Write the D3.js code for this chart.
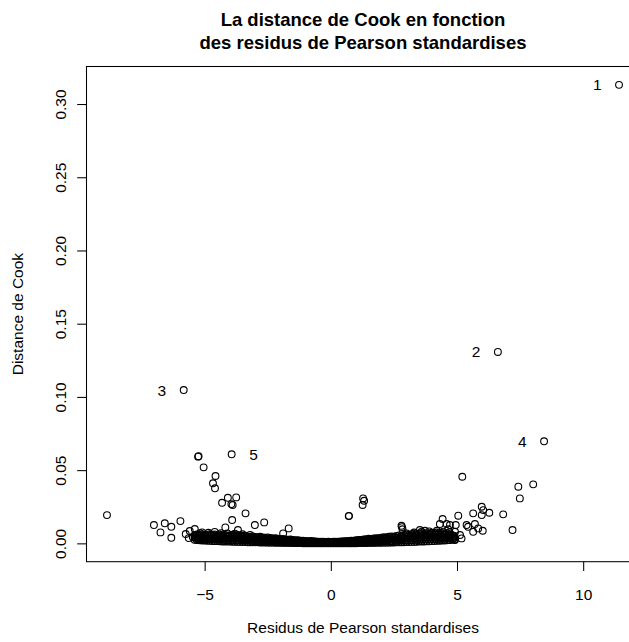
<!DOCTYPE html>
<html>
<head>
<meta charset="utf-8">
<script src="https://cdn.jsdelivr.net/npm/d3@7"></script>
<style>
  html, body { margin: 0; padding: 0; background: #fff; }
  svg { display: block; font-family: "Liberation Sans", Arial, Helvetica, sans-serif; }
</style>
</head>
<body>
<svg id="chart" width="629" height="642"></svg>
<script>
// Influential observations: [standardised Pearson residual, Cook's distance]
const outliers = [
  [11.42, 0.3131], [6.62, 0.1307], [-5.83, 0.1047], [8.45, 0.0697], [-3.93, 0.0608],
  [-5.26, 0.0592], [-5.24, 0.0595], [-5.04, 0.0519], [-4.57, 0.0460], [-4.67, 0.0410],
  [-4.59, 0.0376], [-4.08, 0.0311], [-3.75, 0.0314], [-4.31, 0.0277], [-3.94, 0.0268],
  [-3.89, 0.0262], [-3.38, 0.0205], [-3.91, 0.0159], [-8.87, 0.0193], [-7.01, 0.0125],
  [-6.58, 0.0137], [-6.32, 0.0113], [-5.96, 0.0152], [-6.75, 0.0075], [-6.32, 0.0038],
  [-3.01, 0.0125], [-2.64, 0.0143], [-1.67, 0.0102], [-1.89, 0.0068], [-4.18, 0.0109],
  [-3.68, 0.0091], [-5.75, 0.0064], [-5.59, 0.0084], [-5.39, 0.0098], [-5.47, 0.0043],
  [-5.19, 0.0070], [-5.63, 0.0036], [0.71, 0.0186], [0.72, 0.0188], [1.28, 0.0307],
  [1.32, 0.0291], [1.26, 0.0262], [2.80, 0.0120], [2.82, 0.0111], [2.84, 0.0096],
  [3.53, 0.0091], [3.73, 0.0086], [4.43, 0.0166], [4.32, 0.0132], [4.59, 0.0132],
  [4.72, 0.0125], [4.95, 0.0125], [5.05, 0.0189], [4.65, 0.0096], [4.92, 0.0079],
  [5.12, 0.0057], [4.92, 0.0023], [5.18, 0.0034], [5.38, 0.0125], [5.44, 0.0113],
  [5.71, 0.0132], [5.64, 0.0205], [5.98, 0.0250], [6.04, 0.0227], [5.98, 0.0193],
  [6.28, 0.0209], [5.84, 0.0102], [6.02, 0.0086], [5.64, 0.0079], [6.83, 0.0198],
  [7.20, 0.0091], [7.43, 0.0387], [7.49, 0.0307], [8.02, 0.0403], [5.21, 0.0455]
];

// Bulk of the observations: residual values and the Cook's distances found at each
const bandX = [
  -5.4, -5.3, -5.2, -5.1, -5.0, -4.9, -4.8, -4.7, -4.6, -4.5, -4.4, -4.3, -4.2, -4.1, -4.0,
  -3.9, -3.8, -3.7, -3.6, -3.5, -3.4, -3.3, -3.2, -3.1, -3.0, -2.9, -2.8, -2.7, -2.6, -2.5,
  -2.4, -2.3, -2.2, -2.1, -2.0, -1.9, -1.8, -1.7, -1.6, -1.5, -1.4, -1.3, -1.2, -1.1, -1.0,
  -0.9, -0.8, -0.7, -0.6, -0.5, -0.4, -0.3, -0.2, -0.1, 0.0, 0.1, 0.2, 0.3, 0.4, 0.5,
  0.6, 0.7, 0.8, 0.9, 1.0, 1.1, 1.2, 1.3, 1.4, 1.5, 1.6, 1.7, 1.8, 1.9, 2.0,
  2.1, 2.2, 2.3, 2.4, 2.5, 2.6, 2.7, 2.8, 2.9, 3.0, 3.1, 3.2, 3.3, 3.4, 3.5,
  3.6, 3.7, 3.8, 3.9, 4.0, 4.1, 4.2, 4.3, 4.4, 4.5, 4.6, 4.7, 4.8, 4.9
];
const bandY = [
  [.0024,.0041,.0056],[.0022,.0040,.0060],[.0021,.0037,.0054],[.0020,.0042,.0062],[.0019,.0038,.0058],
  [.0018,.0036,.0055],[.0017,.0041,.0063],[.0016,.0037,.0059],[.0015,.0039,.0061],[.0015,.0035,.0056],
  [.0014,.0038,.0060],[.0013,.0034,.0055],[.0013,.0036,.0058],[.0012,.0032,.0053],[.0012,.0034,.0056],
  [.0011,.0035,.0059],[.0011,.0031,.0052],[.0010,.0034,.0057],[.0010,.0032,.0054],[.0009,.0029,.0050],
  [.0009,.0031,.0053],[.0008,.0028,.0048],[.0008,.0027,.0046],[.0008,.0029,.0049],[.0007,.0025,.0044],
  [.0007,.0024,.0042],[.0006,.0026,.0045],[.0006,.0023,.0040],[.0006,.0022,.0038],[.0005,.0023,.0041],
  [.0005,.0021,.0037],[.0005,.0019,.0034],[.0004,.0020,.0036],[.0004,.0017,.0031],[.0004,.0016,.0029],
  [.0003,.0017,.0030],[.0003,.0015,.0027],[.0003,.0014,.0025],[.0003,.0014,.0026],[.0002,.0012,.0023],
  [.0002,.0011,.0021],[.0002,.0012,.0022],[.0002,.0010,.0019],[.0001,.0009,.0018],[.0001,.0009,.0017],
  [.0001,.0008,.0015],[.0001,.0008,.0016],[.0001,.0007,.0014],[.0000,.0006,.0013],[.0000,.0006,.0012],
  [.0000,.0005,.0011],[.0000,.0006,.0012],[.0000,.0005,.0010],[.0000,.0005,.0011],[.0000,.0005,.0010],
  [.0000,.0005,.0011],[.0000,.0006,.0012],[.0000,.0005,.0011],[.0000,.0006,.0013],[.0000,.0007,.0015],
  [.0001,.0007,.0014],[.0001,.0009,.0017],[.0001,.0010,.0019],[.0001,.0009,.0018],[.0001,.0011,.0022],
  [.0002,.0013,.0024],[.0002,.0012,.0023],[.0002,.0014,.0027],[.0002,.0015,.0029],[.0003,.0017,.0031],
  [.0003,.0016,.0030],[.0003,.0018,.0034],[.0004,.0020,.0036],[.0004,.0019,.0035],[.0004,.0021,.0039],
  [.0005,.0023,.0042],[.0005,.0022,.0040],[.0005,.0025,.0045],[.0006,.0027,.0048],[.0006,.0026,.0046],
  [.0007,.0029,.0051],[.0007,.0030,.0054],[.0008,.0030,.0052],[.0008,.0032,.0057],[.0009,.0034,.0060],
  [.0009,.0032,.0056],[.0010,.0036,.0062],[.0010,.0037,.0065],[.0011,.0036,.0061],[.0012,.0039,.0067],
  [.0012,.0041,.0069],[.0013,.0038,.0064],[.0014,.0042,.0070],[.0014,.0040,.0066],[.0015,.0043,.0072],
  [.0016,.0042,.0068],[.0017,.0045,.0074],[.0018,.0043,.0069],[.0019,.0045,.0071],[.0020,.0042,.0065],
  [.0021,.0045,.0069],[.0022,.0042,.0062],[.0024,.0041,.0058],[.0026,.0038,.0050]
];

// More of the bulk, at residuals between those above
const bandX2 = [
  -5.35, -5.25, -5.15, -5.05, -4.95, -4.85, -4.75, -4.65, -4.55, -4.45, -4.35, -4.25, -4.15, -4.05,
  -3.95, -3.85, -3.75, -3.65, -3.55, -3.45, -3.35, -3.25, -3.15, -3.05, -2.95, -2.85, -2.75, -2.65,
  -2.55, -2.45, -2.35, -2.25, -2.15, -2.05, -1.95, -1.85, -1.75, -1.65, -1.55, -1.45, -1.35, -1.25,
  -1.15, -1.05, -0.95, -0.85, -0.75, -0.65, -0.55, -0.45, -0.35, -0.25, -0.15, -0.05, 0.05, 0.15,
  0.25, 0.35, 0.45, 0.55, 0.65, 0.75, 0.85, 0.95, 1.05, 1.15, 1.25, 1.35, 1.45, 1.55, 1.65, 1.75,
  1.85, 1.95, 2.05, 2.15, 2.25, 2.35, 2.45, 2.55, 2.65, 2.75, 2.85, 2.95, 3.05, 3.15, 3.25, 3.35,
  3.45, 3.55, 3.65, 3.75, 3.85, 3.95, 4.05, 4.15, 4.25, 4.35, 4.45, 4.55, 4.65, 4.75, 4.85
];
const bandY2 = [
  [.0031,.0052],[.0029,.0050],[.0030,.0054],[.0029,.0052],[.0027,.0049],[.0028,.0054],[.0027,.0055],
  [.0026,.0052],[.0026,.0052],[.0025,.0050],[.0025,.0049],[.0024,.0048],[.0023,.0047],[.0022,.0046],
  [.0023,.0048],[.0022,.0046],[.0021,.0047],[.0021,.0046],[.0020,.0043],[.0019,.0043],[.0019,.0041],
  [.0017,.0038],[.0018,.0039],[.0016,.0037],[.0015,.0035],[.0016,.0036],[.0015,.0034],[.0014,.0032],
  [.0014,.0032],[.0013,.0031],[.0012,.0028],[.0012,.0028],[.0011,.0026],[.0010,.0024],[.0010,.0024],
  [.0009,.0022],[.0009,.0021],[.0008,.0020],[.0008,.0019],[.0007,.0017],[.0007,.0017],[.0006,.0016],
  [.0005,.0014],[.0005,.0013],[.0005,.0012],[.0004,.0012],[.0004,.0011],[.0003,.0010],[.0003,.0009],
  [.0002,.0008],[.0003,.0009],[.0002,.0008],[.0002,.0008],[.0002,.0007],[.0002,.0008],[.0003,.0009],
  [.0002,.0008],[.0003,.0009],[.0003,.0010],[.0004,.0011],[.0004,.0012],[.0005,.0014],[.0005,.0014],
  [.0005,.0015],[.0006,.0017],[.0007,.0019],[.0007,.0019],[.0008,.0021],[.0008,.0022],[.0009,.0024],
  [.0010,.0025],[.0010,.0026],[.0011,.0028],[.0012,.0029],[.0013,.0031],[.0014,.0033],[.0014,.0034],
  [.0015,.0036],[.0016,.0037],[.0017,.0039],[.0018,.0041],[.0019,.0042],[.0019,.0043],[.0020,.0046],
  [.0021,.0047],[.0022,.0048],[.0023,.0050],[.0024,.0050],[.0025,.0052],[.0026,.0055],[.0026,.0054],
  [.0027,.0055],[.0028,.0057],[.0028,.0056],[.0029,.0058],[.0030,.0059],[.0031,.0060],[.0031,.0058],
  [.0032,.0058],[.0032,.0056],[.0032,.0055],[.0032,.0052],[.0032,.0049]
];

// Observations along the upper edge of the bulk
const bandTop = [
  [-5.10, .0075], [-4.85, .0072], [-4.60, .0078], [-4.35, .0070], [-4.10, .0068], [-3.80, .0066],
  [-3.50, .0062], [-3.20, .0058], [3.00, .0068], [3.30, .0074], [3.60, .0080], [3.90, .0082],
  [4.20, .0086], [4.45, .0080], [4.70, .0076]
];

// Identified observations: index into outliers, label, side of the point
const labelIndex = [0, 1, 2, 3, 4];
const labelText = ["1", "2", "3", "4", "5"];
const labelSide = ["left", "left", "left", "left", "right"];

const xTicks = [-5, 0, 5, 10];
const yTicks = [0, 0.05, 0.10, 0.15, 0.20, 0.25, 0.30];

const titleLines = ["La distance de Cook en fonction", "des residus de Pearson standardises"];
const xTitle = "Residus de Pearson standardises";
const yTitle = "Distance de Cook";

// Gather every point
const points = outliers.map(d => ({ x: d[0], y: d[1] }));
bandX.forEach((x, i) => bandY[i].forEach(y => points.push({ x, y })));
bandX2.forEach((x, i) => bandY2[i].forEach(y => points.push({ x, y })));
bandTop.forEach(d => points.push({ x: d[0], y: d[1] }));

// Plot region (the right side runs past the edge of the page)
const plot = { left: 86.5, top: 66.5, right: 639.5, bottom: 561.7 };

// Axis limits padded by 4% of the data range on each side
function padded(ext) {
  const d = (ext[1] - ext[0]) * 0.04;
  return [ext[0] - d, ext[1] + d];
}
const x = d3.scaleLinear().domain(padded(d3.extent(points, d => d.x))).range([plot.left, plot.right]);
const y = d3.scaleLinear().domain(padded(d3.extent(points, d => d.y))).range([plot.bottom, plot.top]);

const svg = d3.select("#chart");
const fs = 15.5;

// Points
svg.append("g")
  .selectAll("circle")
  .data(points)
  .join("circle")
  .attr("cx", d => x(d.x))
  .attr("cy", d => y(d.y))
  .attr("r", 3.4)
  .attr("fill", "none")
  .attr("stroke", "#000")
  .attr("stroke-width", 1.1);

// Point labels
svg.append("g")
  .selectAll("text")
  .data(labelIndex)
  .join("text")
  .attr("x", (k, i) => x(outliers[k][0]) + (labelSide[i] === "left" ? -17.5 : 17.5))
  .attr("y", k => y(outliers[k][1]) + 5.5)
  .attr("text-anchor", (k, i) => labelSide[i] === "left" ? "end" : "start")
  .attr("font-size", fs)
  .attr("fill", "#000")
  .text((k, i) => labelText[i]);

// Bottom axis
const xAxis = d3.axisBottom(x).tickValues(xTicks).tickSize(9.3).tickPadding(18)
  .tickFormat(d3.format("d"));
const gx = svg.append("g").attr("transform", `translate(0,${plot.bottom})`).call(xAxis);
gx.select(".domain").remove();
gx.selectAll(".tick line").attr("stroke", "#000").attr("stroke-width", 1.05);
gx.selectAll(".tick text").attr("font-size", fs).attr("font-family", null).attr("fill", "#000");

// Left axis, labels parallel to the axis
const yAxis = d3.axisLeft(y).tickValues(yTicks).tickSize(9.3).tickFormat(d3.format(".2f"));
const gy = svg.append("g").attr("transform", `translate(${plot.left},0)`).call(yAxis);
gy.select(".domain").remove();
gy.selectAll(".tick line").attr("stroke", "#000").attr("stroke-width", 1.05);
gy.selectAll(".tick text")
  .attr("font-size", fs).attr("font-family", null).attr("fill", "#000")
  .attr("x", null).attr("dy", null)
  .attr("text-anchor", "middle")
  .attr("transform", "translate(-20.5,0) rotate(-90)");

// Frame
svg.append("rect")
  .attr("x", plot.left).attr("y", plot.top)
  .attr("width", plot.right - plot.left).attr("height", plot.bottom - plot.top)
  .attr("fill", "none").attr("stroke", "#000").attr("stroke-width", 1.05);

// Titles
const cx = (plot.left + plot.right) / 2;
svg.append("g")
  .selectAll("text")
  .data(titleLines)
  .join("text")
  .attr("x", cx)
  .attr("y", (d, i) => 25.5 + i * 23)
  .attr("text-anchor", "middle")
  .attr("font-size", 18.5)
  .attr("font-weight", "bold")
  .text(d => d);

svg.append("text")
  .attr("x", cx).attr("y", 633)
  .attr("text-anchor", "middle").attr("font-size", fs)
  .text(xTitle);

svg.append("text")
  .attr("transform", `translate(22.5,${(plot.top + plot.bottom) / 2}) rotate(-90)`)
  .attr("text-anchor", "middle").attr("font-size", fs)
  .text(yTitle);
</script>
</body>
</html>
